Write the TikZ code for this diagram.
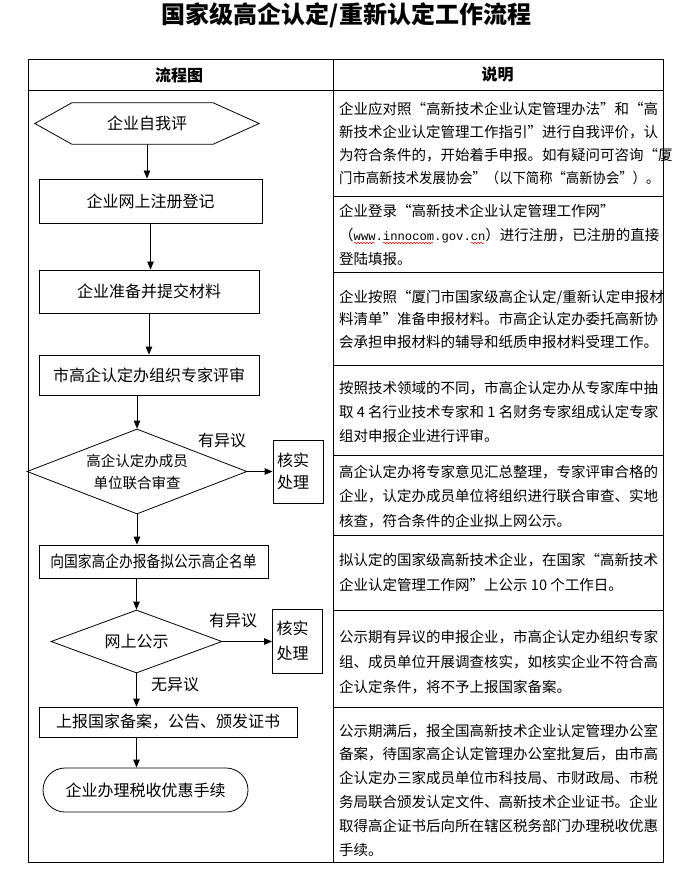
\documentclass[tikz,border=0pt]{standalone}
\usepackage{fontspec}
\setmainfont{Noto Sans CJK SC}
\newfontfamily\monofont{Liberation Mono}
\newfontfamily\condfont[FakeStretch=0.86]{Noto Sans CJK SC}
\usetikzlibrary{arrows.meta,shapes.geometric,decorations.pathmorphing}
\tikzset{
  frame/.style={line width=0.8pt},
  procbox/.style={draw, line width=0.8pt, rectangle, inner sep=0pt, font=\fontsize{16}{20}\selectfont},
  decide/.style={draw, line width=0.8pt, shape=diamond, inner sep=0pt, align=center, font=\fontsize{14.5}{22}\selectfont},
  chkbox/.style={draw, line width=0.8pt, rectangle, inner xsep=4pt, inner ysep=0pt, text width=42pt, align=left, minimum width=50pt},
  arr/.style={line width=0.8pt, -{Triangle[length=8pt,width=6.5pt]}},
  lbl/.style={font=\fontsize{16}{20}\selectfont, inner sep=0pt},
  hdr/.style={font=\fontsize{16}{18}\selectfont\bfseries, inner sep=0pt},
  desc/.style={anchor=north west, inner sep=0pt, align=left},
  squig/.style={draw=red!85!black, line width=0.5pt, decorate, decoration={snake, segment length=3pt, amplitude=0.7pt}},
}
\begin{document}
\begin{tikzpicture}[x=1pt,y=-1pt]
\useasboundingbox[fill=white] (0,0) rectangle (685,869);
\node[font=\fontsize{24}{28}\selectfont\bfseries, inner sep=0pt] (title) at (346.5,15.5) {国家级高企认定/重新认定工作流程};

% table frame
\draw[frame] (28,59) rectangle (663,862);
\draw[frame] (28,90) -- (663,90);
\draw[frame] (333,59) -- (333,862);
\foreach \yy in {196,272,365,455,535,610,707} \draw[frame] (333,\yy) -- (663,\yy);
\node[hdr] (h1) at (179,75) {流程图};
\node[hdr] (h2) at (497.5,75) {说明};

% flow chart
\node[inner sep=0pt, minimum width=224pt, minimum height=41pt, font=\fontsize{16}{20}\selectfont] (hex) at (147,123.5) {企业自我评};
\draw[frame] (hex.west) -- ([xshift=37pt]hex.north west) -- ([xshift=-46pt]hex.north east) -- (hex.east) -- ([xshift=-46pt]hex.south east) -- ([xshift=37pt]hex.south west) -- cycle;
\node[procbox, minimum width=223pt, minimum height=44pt] (reg) at (150.5,201) {企业网上注册登记};
\node[procbox, minimum width=220pt, minimum height=43pt] (sub) at (149,291.5) {企业准备并提交材料};
\node[procbox, minimum width=220pt, minimum height=40pt] (rev) at (149,375) {市高企认定办组织专家评审};
\node[decide, aspect=2.6, minimum width=220pt, minimum height=85pt] (d1) at (137,471.5) {高企认定办成员\\单位联合审查};
\node[chkbox, minimum height=63pt, font=\fontsize{16}{22}\selectfont] (c1) at (298,471.5) {核实\\处理};
\node[procbox, minimum width=229pt, minimum height=33pt, font=\fontsize{16}{20}\selectfont\condfont] (rep) at (153.5,561.5) {向国家高企办报备拟公示高企名单};
\node[decide, aspect=2.7, minimum width=171pt, minimum height=63pt, font=\fontsize{16}{20}\selectfont] (d2) at (136.5,641.5) {网上公示};
\node[chkbox, minimum height=64pt, font=\fontsize{16}{25}\selectfont] (c2) at (297.5,641) {核实\\处理};
\node[procbox, minimum width=258pt, minimum height=30pt] (cert) at (168,722) {上报国家备案，公告、颁发证书};
\node[procbox, rounded corners=22pt, minimum width=205pt, minimum height=44pt] (tax) at (145.5,790) {企业办理税收优惠手续};

\node[lbl] (l1) at (222,440) {有异议};
\node[lbl] (l2) at (233,620) {有异议};
\node[lbl] (l3) at (175,685) {无异议};

\draw[arr] (hex.south) -- (hex.south |- reg.north);
\draw[arr] (reg.south) -- (reg.south |- sub.north);
\draw[arr] (sub.south) -- (sub.south |- rev.north);
\draw[arr] (d1.north |- rev.south) -- (d1.north);
\draw[arr] (d1.east) -- (c1.west |- d1.east);
\draw[arr] (d1.south) -- (d1.south |- rep.north);
\draw[arr] (d2.north |- rep.south) -- (d2.north);
\draw[arr] (d2.east) -- (c2.west |- d2.east);
\draw[arr] (d2.south) -- (d2.south |- cert.north);
\draw[arr] (d2.south |- cert.south) -- (d2.south |- tax.north);

% descriptions
\node[desc, font=\fontsize{14.5}{23}\selectfont] (t1) at (339,101.5) {企业应对照“高新技术企业认定管理办法”和“高\\新技术企业认定管理工作指引”进行自我评价，认\\为符合条件的，开始着手申报。如有疑问可咨询“厦\\\scalebox{0.92}[1]{门市高新技术发展协会”（以下简称“高新协会”）。}};
\node[desc, font=\fontsize{14.5}{24}\selectfont] (t2) at (339,203.5) {企业登录“高新技术企业认定管理工作网”\\（{\monofont\fontsize{12.2}{24}\selectfont www.innocom.gov.cn}）进行注册，已注册的直接\\登陆填报。};
\draw[squig] (354,243) -- (375,243);
\draw[squig] (383,243) -- (433,243);
\draw[squig] (471,243) -- (484,243);
\node[desc, font=\fontsize{14.5}{22.5}\selectfont] (t3) at (339,289.5) {企业按照“厦门市国家级高企认定/重新认定申报材\\料清单”准备申报材料。市高企认定办委托高新协\\会承担申报材料的辅导和纸质申报材料受理工作。};
\node[desc, font=\fontsize{14.5}{24}\selectfont] (t4) at (339,380.5) {按照技术领域的不同，市高企认定办从专家库中抽\\取 4 名行业技术专家和 1 名财务专家组成认定专家\\组对申报企业进行评审。};
\node[desc, font=\fontsize{14.5}{24.5}\selectfont] (t5) at (339,464.5) {高企认定办将专家意见汇总整理，专家评审合格的\\企业，认定办成员单位将组织进行联合审查、实地\\核查，符合条件的企业拟上网公示。};
\node[desc, font=\fontsize{14.5}{25}\selectfont] (t6) at (339,552.5) {拟认定的国家级高新技术企业，在国家“高新技术\\企业认定管理工作网”上公示 10 个工作日。};
\node[desc, font=\fontsize{14.5}{25}\selectfont] (t7) at (339,629.5) {公示期有异议的申报企业，市高企认定办组织专家\\组、成员单位开展调查核实，如核实企业不符合高\\企认定条件，将不予上报国家备案。};
\node[desc, font=\fontsize{14.5}{23.8}\selectfont] (t8) at (339,723.5) {公示期满后，报全国高新技术企业认定管理办公室\\备案，待国家高企认定管理办公室批复后，由市高\\企认定办三家成员单位市科技局、市财政局、市税\\务局联合颁发认定文件、高新技术企业证书。企业\\取得高企证书后向所在辖区税务部门办理税收优惠\\手续。};
\end{tikzpicture}
\end{document}
